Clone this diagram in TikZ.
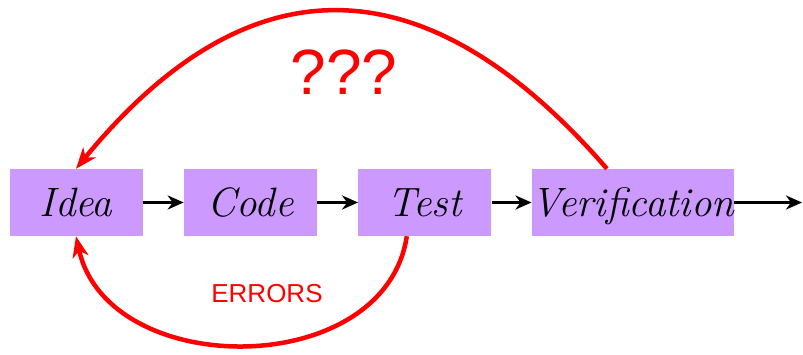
\documentclass[tikz,border=0pt]{standalone}
\usepackage{fontspec}
\newfontfamily\labelfont{Liberation Sans}
\usetikzlibrary{positioning,arrows.meta}
\newcommand{\boxfont}{\itshape\fontsize{41}{48}\selectfont}
\definecolor{stagefill}{RGB}{204,153,255}

\begin{document}
\begin{tikzpicture}[x=1pt,y=1pt,
        stage/.style={rectangle, fill=stagefill, minimum width=133pt, minimum height=67pt, inner sep=0pt,
            text height=27pt, text depth=0pt, font=\boxfont},
        flow/.style={-{Stealth[length=16pt,width=14pt,inset=5pt]}, line width=3pt},
        loop/.style={-{Stealth[length=21pt,width=16pt,inset=6pt]}, draw=red, line width=4.5pt}]
        \useasboundingbox (0,0) rectangle (803,354);
        % the four stages
        \node[stage] (idea) at (76,151.5) {Idea};
        \node[stage, right=41pt of idea] (code) {Code};
        \node[stage, right=41pt of code] (test) {Test};
        \node[stage, right=40pt of test, minimum width=200pt] (verif) {Verification};
        \coordinate (out) at (802,151.5);
        \draw[flow] (idea) -- (code);
        \draw[flow] (code) -- (test);
        \draw[flow] (test) -- (verif);
        \draw[flow] (verif) -- (out);
        % feedback loops
        \draw[loop] ([xshift=-26pt]verif.north) .. controls (425,395) and (248,395) .. (idea.north);
        \draw[loop] ([xshift=-18pt]test.south) .. controls (385,-27) and (108,-27) .. (idea.south);
        \node[text=red, font=\labelfont\fontsize{64}{70}\selectfont] (qmarks) at (344,282) {???};
        \node[text=red, font=\labelfont\fontsize{26}{30}\selectfont] (errors) at (267,60) {ERRORS};
\end{tikzpicture}
\end{document}
